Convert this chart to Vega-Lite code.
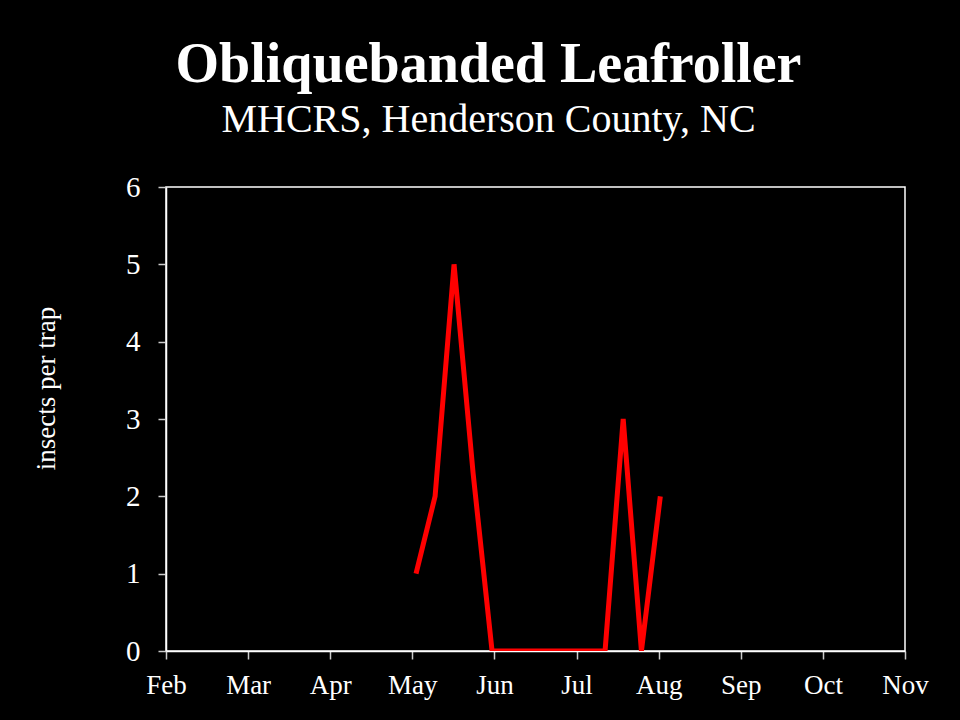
{
  "$schema": "https://vega.github.io/schema/vega-lite/v6.json",
  "width": 739,
  "height": 464,
  "autosize": {"type": "none"},
  "padding": {"left": 166, "top": 187, "right": 55, "bottom": 69},
  "background": "#000000",
  "config": {
    "view": {"stroke": "#ffffff", "strokeWidth": 1.5},
    "font": "Liberation Serif"
  },
  "title": {
    "text": "Obliquebanded Leafroller",
    "subtitle": "MHCRS, Henderson County, NC",
    "font": "Liberation Serif",
    "fontSize": 56,
    "fontWeight": "bold",
    "color": "#ffffff",
    "subtitleFont": "Liberation Serif",
    "subtitleFontSize": 40,
    "subtitleColor": "#ffffff",
    "subtitlePadding": 6,
    "anchor": "middle",
    "frame": "group",
    "dx": -47,
    "offset": 32
  },
  "data": {
    "values": [
      {"month": 3.045, "insects": 1},
      {"month": 3.277, "insects": 2},
      {"month": 3.508, "insects": 5},
      {"month": 3.74, "insects": 2.3},
      {"month": 3.971, "insects": 0},
      {"month": 4.2, "insects": 0},
      {"month": 4.43, "insects": 0},
      {"month": 4.66, "insects": 0},
      {"month": 4.89, "insects": 0},
      {"month": 5.12, "insects": 0},
      {"month": 5.347, "insects": 0},
      {"month": 5.568, "insects": 3},
      {"month": 5.79, "insects": 0},
      {"month": 6.02, "insects": 2}
    ]
  },
  "mark": {"type": "line", "color": "#ff0000", "strokeWidth": 5, "strokeJoin": "miter", "clip": true},
  "encoding": {
    "x": {
      "field": "month",
      "type": "quantitative",
      "scale": {"domain": [0, 9], "nice": false, "zero": false},
      "axis": {
        "title": null,
        "values": [0, 1, 2, 3, 4, 5, 6, 7, 8, 9],
        "labelExpr": "['Feb','Mar','Apr','May','Jun','Jul','Aug','Sep','Oct','Nov'][datum.value]",
        "grid": false,
        "domainColor": "#ffffff",
        "domainWidth": 1.5,
        "tickColor": "#cccccc",
        "tickWidth": 1.5,
        "tickSize": 8,
        "labelColor": "#ffffff",
        "labelFont": "Liberation Serif",
        "labelFontSize": 27,
        "labelPadding": 13,
        "labelFlush": false,
        "labelOverlap": false
      }
    },
    "y": {
      "field": "insects",
      "type": "quantitative",
      "scale": {"domain": [0, 6], "nice": false},
      "axis": {
        "title": "insects per trap",
        "titleColor": "#ffffff",
        "titleFont": "Liberation Serif",
        "titleFontSize": 27,
        "titleFontWeight": "normal",
        "titleAngle": -90,
        "titleAlign": "center",
        "titleX": -106,
        "titleY": 201,
        "values": [0, 1, 2, 3, 4, 5, 6],
        "grid": false,
        "domainColor": "#ffffff",
        "domainWidth": 1.5,
        "tickColor": "#cccccc",
        "tickWidth": 1.5,
        "tickSize": 8,
        "labelColor": "#ffffff",
        "labelFont": "Liberation Serif",
        "labelFontSize": 29,
        "labelPadding": 18,
        "labelFlush": false,
        "labelOverlap": false
      }
    }
  }
}
